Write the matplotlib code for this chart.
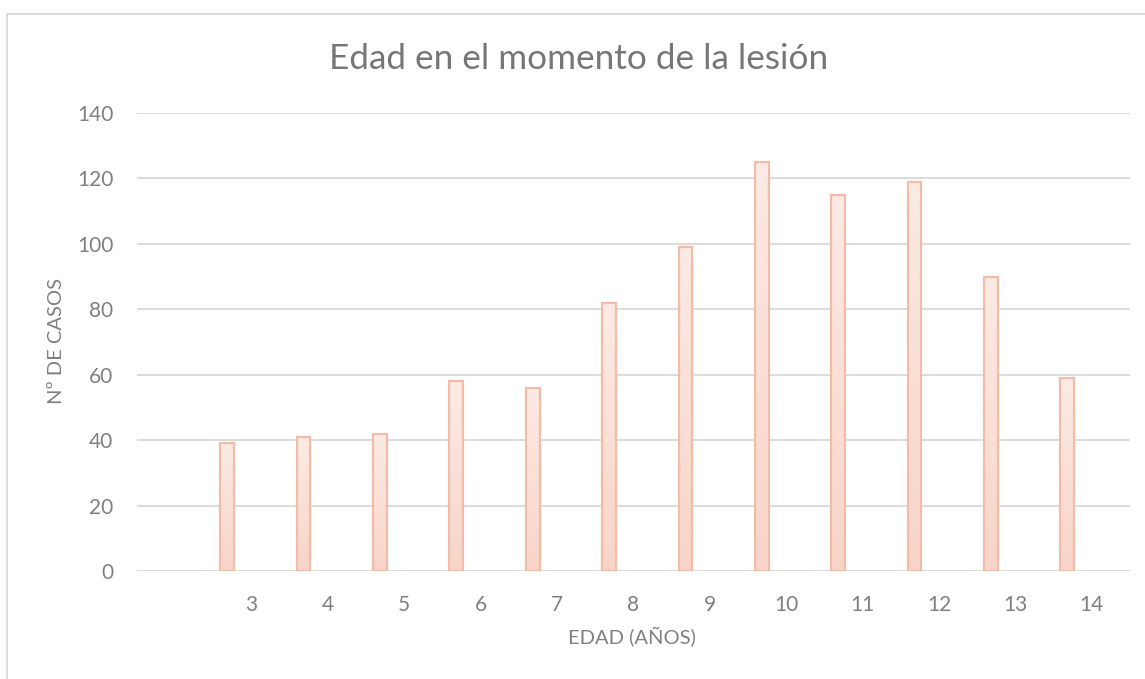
import numpy as np
import matplotlib.pyplot as plt
from matplotlib.colors import LinearSegmentedColormap
from matplotlib.patches import Rectangle

# datos
edades = [3, 4, 5, 6, 7, 8, 9, 10, 11, 12, 13, 14]
casos = [39, 41, 42, 58, 56, 82, 99, 125, 115, 119, 90, 59]

W, H = 1145, 679
fig = plt.figure(figsize=(W / 100, H / 100), dpi=100)
plt.rcParams['font.family'] = ['Lato', 'DejaVu Sans']

ax = fig.add_axes([137 / W, 1 - 571 / H, (1130 - 137) / W, (571 - 113) / H])

grey = '#808080'
grid = '#d9d9d9'

# las categorias empiezan en 2 (vacia), las barras van desplazadas a la izquierda
pos = np.array(edades) - 2
offset = -0.32
width = 0.18

cmap = LinearSegmentedColormap.from_list('bar', ['#f8d4c8', '#fcebe5'])
grad = np.linspace(0, 1, 256).reshape(-1, 1)

for yv in range(20, 141, 20):
    ax.axhline(yv, color=grid, lw=1.3, zorder=0)

for p, c in zip(pos, casos):
    x0 = p + offset - width / 2
    ax.imshow(grad, extent=[x0, x0 + width, 0, c], origin='lower', cmap=cmap,
              aspect='auto', zorder=2, interpolation='bilinear')
    ax.add_patch(Rectangle((x0, 0), width, c, facecolor='none',
                           edgecolor='#f1bda9', lw=1.6, zorder=3))

ax.axhline(0, color=grid, lw=1.3, zorder=1)

ax.set_xlim(-0.5, 12.5)
ax.set_ylim(0, 140)
ax.set_xticks(pos)
ax.set_xticklabels([str(e) for e in edades])
ax.set_yticks(range(0, 141, 20))
ax.tick_params(length=0, labelsize=15, colors=grey)
ax.tick_params(axis='x', pad=17)
ax.tick_params(axis='y', pad=17)
for s in ax.spines.values():
    s.set_visible(False)

fig.text(579 / W, 1 - 59 / H, 'Edad en el momento de la lesión', ha='center',
         va='center', fontsize=25.3, color='#767676')
fig.text(57 / W, 1 - 341 / H, 'Nº DE CASOS', rotation=90, ha='center',
         va='center', fontsize=14.5, color=grey)
fig.text(632 / W, 1 - 636 / H, 'EDAD (AÑOS)', ha='center', va='center',
         fontsize=14.5, color=grey)

# borde del area del grafico
fig.add_artist(Rectangle((7 / W, -0.1), 1.2, 1.1 - 14 / H, transform=fig.transFigure,
                         facecolor='none', edgecolor=grid, lw=1.3))

fig.savefig('out.png', dpi=100)
